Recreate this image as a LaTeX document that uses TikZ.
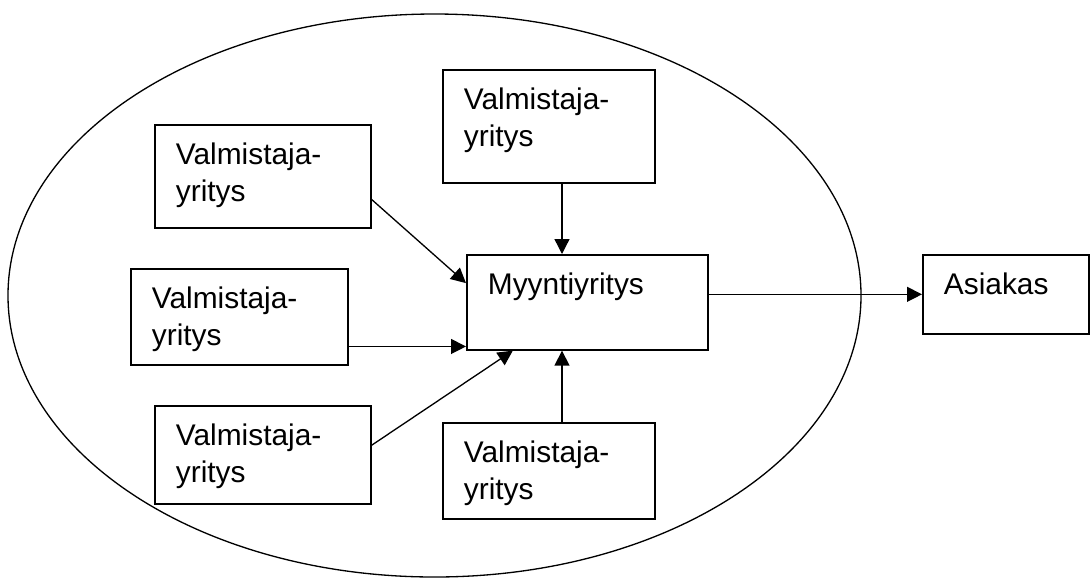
\documentclass[tikz,border=0pt]{standalone}
\usepackage{fontspec}
\setmainfont{Liberation Sans}
\usetikzlibrary{arrows.meta}

\begin{document}
\begin{tikzpicture}[scale=0.2]
\tikzstyle{every node}+=[inner sep=0pt, font=\fontsize{17}{21}\selectfont]
\tikzset{firm/.style 2 args={draw, line width=0.9pt, anchor=north west, align=left,
  inner xsep=12pt, inner ysep=0pt, text height=22.8pt, text width=#1, text depth=#2}}
\tikzset{arr/.style={line width=0.75pt, -{Triangle[length=8.5pt,width=8.5pt]}}}
\useasboundingbox (0,0) rectangle (109,-57.9);
\draw [line width=0.75pt] (43.45,-29.55) ellipse (42.65 and 28.15);
\node [firm={96.6pt}{41.5pt}] (vt) at (44.2,-6.9) {Valmistaja-\\yritys};
\node [firm={98.9pt}{35.8pt}] (v1) at (15.4,-12.4) {Valmistaja-\\yritys};
\node [firm={99.5pt}{31.8pt}] (v2) at (13.0,-26.8) {Valmistaja-\\yritys};
\node [firm={98.9pt}{33.0pt}] (v3) at (15.4,-40.5) {Valmistaja-\\yritys};
\node [firm={96.6pt}{31.8pt}] (vb) at (44.2,-42.2) {Valmistaja-\\yritys};
\node [firm={113.1pt}{31.3pt}] (m) at (46.6,-25.4) {Myyntiyritys};
\node [firm={70.5pt}{22.2pt}] (a) at (92.2,-25.4) {Asiakas};
\coordinate (axis) at (56.2,0);
\draw [arr] (vt.south -| axis) -- (m.north -| axis);
\draw [arr] (vb.north -| axis) -- (m.south -| axis);
\draw [arr] (v1.-12) -- (m.171);
\draw [arr] (v2.east |- m.200) -- (m.200);
\draw [arr] (v3.5) -- (m.213);
\draw [arr] (m.east |- a.west) -- (a.west);
\end{tikzpicture}
\end{document}
